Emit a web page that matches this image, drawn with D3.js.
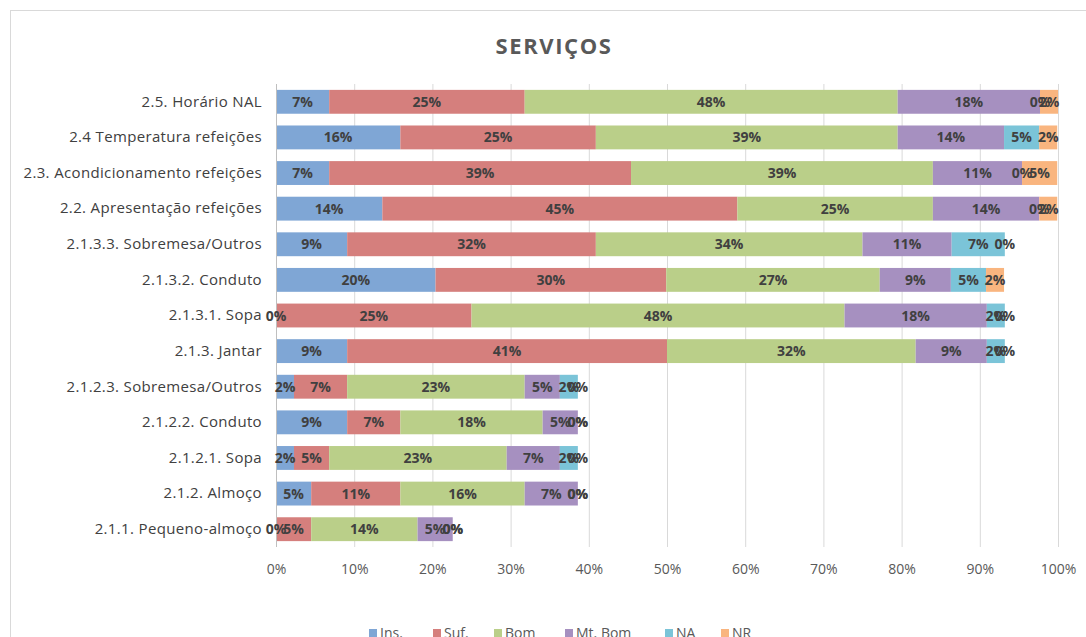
<!DOCTYPE html>
<html>
<head>
<meta charset="utf-8">
<script src="https://cdn.jsdelivr.net/npm/d3@7"></script>
<style>
  body { margin: 0; background: #fff; }
  svg { display: block; font-family: "Open Sans", Lato, sans-serif; }
</style>
</head>
<body>
<div id="chart"></div>
<script>
// categories, top to bottom
var categories = [
    '2.5. Horário NAL',
    '2.4 Temperatura refeições',
    '2.3. Acondicionamento refeições',
    '2.2. Apresentação refeições',
    '2.1.3.3. Sobremesa/Outros',
    '2.1.3.2. Conduto',
    '2.1.3.1. Sopa',
    '2.1.3. Jantar',
    '2.1.2.3. Sobremesa/Outros',
    '2.1.2.2. Conduto',
    '2.1.2.1. Sopa',
    '2.1.2. Almoço',
    '2.1.1. Pequeno-almoço'
];

var series_names = ['Ins.', 'Suf.', 'Bom', 'Mt. Bom', 'NA', 'NR'];

// values in percent
var ins_values   = [6.8, 15.9, 6.8, 13.6, 9.1, 20.4, 0, 9.1, 2.3, 9.1, 2.3, 4.5, 0];
var suf_values   = [25, 25, 38.6, 45.4, 31.8, 29.5, 25, 40.9, 6.8, 6.8, 4.5, 11.4, 4.5];
var bom_values   = [47.7, 38.6, 38.6, 25, 34.1, 27.3, 47.7, 31.8, 22.7, 18.2, 22.7, 15.9, 13.6];
var mtbom_values = [18.2, 13.6, 11.4, 13.6, 11.4, 9.1, 18.2, 9.1, 4.5, 4.5, 6.8, 6.8, 4.5];
var na_values    = [0, 4.5, 0, 0, 6.8, 4.5, 2.3, 2.3, 2.3, 0, 2.3, 0, 0];
var nr_values    = [2.3, 2.3, 4.5, 2.3, 0, 2.3, 0, 0, 0, 0, 0, 0, 0];

var tick_values = [0, 10, 20, 30, 40, 50, 60, 70, 80, 90, 100];

var colors = ['#7fa6d5', '#d57f7d', '#bacf89', '#a690c0', '#7bc4d8', '#f9b57f'];

var width = 1086;
var height = 637;
var margin = ({ top: 84, right: 28, bottom: 90, left: 276 });

var table = categories.map(function(c, i) {
    return {
        category: c,
        'Ins.': ins_values[i],
        'Suf.': suf_values[i],
        'Bom': bom_values[i],
        'Mt. Bom': mtbom_values[i],
        'NA': na_values[i],
        'NR': nr_values[i]
    };
});

var stacked = d3.stack().keys(series_names)(table);

var svg = d3.select('#chart')
    .append('svg')
    .attr('width', width)
    .attr('height', height);

// chart border
svg.append('rect')
    .attr('x', 10.5)
    .attr('y', 10.5)
    .attr('width', 1200)
    .attr('height', 800)
    .attr('fill', 'none')
    .attr('stroke', '#d9d9d9');

var x = d3.scaleLinear()
    .domain([0, 100])
    .range([margin.left, 1058]);

var y = d3.scaleBand()
    .domain(categories)
    .range([margin.top, 547])
    .paddingInner(0.33)
    .paddingOuter(0.165);

var color = d3.scaleOrdinal().domain(series_names).range(colors);

// title
svg.append('text')
    .attr('x', 554)
    .attr('y', 54)
    .attr('text-anchor', 'middle')
    .style('font-size', '22px')
    .style('font-weight', 'bold')
    .style('letter-spacing', '1.6px')
    .style('fill', '#595959')
    .text('SERVIÇOS');

// gridlines
svg.append('g')
    .selectAll('line')
    .data(tick_values.slice(1))
    .enter()
    .append('line')
    .attr('x1', function(d) { return x(d) + 0.5; })
    .attr('x2', function(d) { return x(d) + 0.5; })
    .attr('y1', margin.top)
    .attr('y2', 547)
    .attr('stroke', '#d9d9d9');

// bars
var layers = svg.append('g')
    .selectAll('g')
    .data(stacked)
    .enter()
    .append('g')
    .attr('fill', function(d) { return color(d.key); });

layers.selectAll('rect')
    .data(function(d) { return d; })
    .enter()
    .append('rect')
    .attr('x', function(d) { return x(d[0]); })
    .attr('y', function(d) { return y(d.data.category); })
    .attr('width', function(d) { return x(d[1]) - x(d[0]); })
    .attr('height', y.bandwidth());

// category axis line
svg.append('line')
    .attr('x1', x(0) + 0.5)
    .attr('x2', x(0) + 0.5)
    .attr('y1', margin.top)
    .attr('y2', 547)
    .attr('stroke', '#bfbfbf');

// category labels
var y_axis = svg.append('g')
    .attr('transform', `translate(${x(0) - 14}, 0)`)
    .call(d3.axisLeft(y).tickSize(0).tickPadding(0));
y_axis.select('.domain').remove();
y_axis.selectAll('text')
    .style('font-family', '"Open Sans", sans-serif')
    .style('font-size', '15px')
    .style('letter-spacing', '0.35px')
    .style('fill', '#404040');

// value axis labels
var x_axis = svg.append('g')
    .attr('transform', `translate(0, 561)`)
    .call(d3.axisBottom(x).tickValues(tick_values).tickSize(0).tickPadding(3)
        .tickFormat(function(d) { return d + '%'; }));
x_axis.select('.domain').remove();
x_axis.selectAll('text')
    .style('font-family', '"Open Sans", sans-serif')
    .style('font-size', '14px')
    .style('fill', '#595959');

// data labels
var labels = svg.append('g');
stacked.forEach(function(layer) {
    labels.selectAll(null)
        .data(layer)
        .enter()
        .append('text')
        .attr('x', function(d) { return x((d[0] + d[1]) / 2); })
        .attr('y', function(d) { return y(d.data.category) + y.bandwidth() / 2; })
        .attr('dy', '0.36em')
        .attr('text-anchor', 'middle')
        .style('font-size', '14px')
        .style('font-weight', 'bold')
        .style('fill', '#404040')
        .text(function(d) { return Math.round(d[1] - d[0]) + '%'; });
});

// legend
var legend = svg.append('g');
var legend_x = [369, 433, 494, 565, 665, 721];
var legend_items = legend.selectAll('g')
    .data(series_names)
    .enter()
    .append('g')
    .attr('transform', function(d, i) { return `translate(${legend_x[i]}, 633)`; });
legend_items.append('rect')
    .attr('x', 0)
    .attr('y', -4)
    .attr('width', 8)
    .attr('height', 8)
    .attr('fill', function(d) { return color(d); });
legend_items.append('text')
    .attr('x', 11)
    .attr('y', 0)
    .attr('dy', '0.35em')
    .style('font-size', '14px')
    .style('fill', '#595959')
    .text(function(d) { return d; });
</script>
</body>
</html>
